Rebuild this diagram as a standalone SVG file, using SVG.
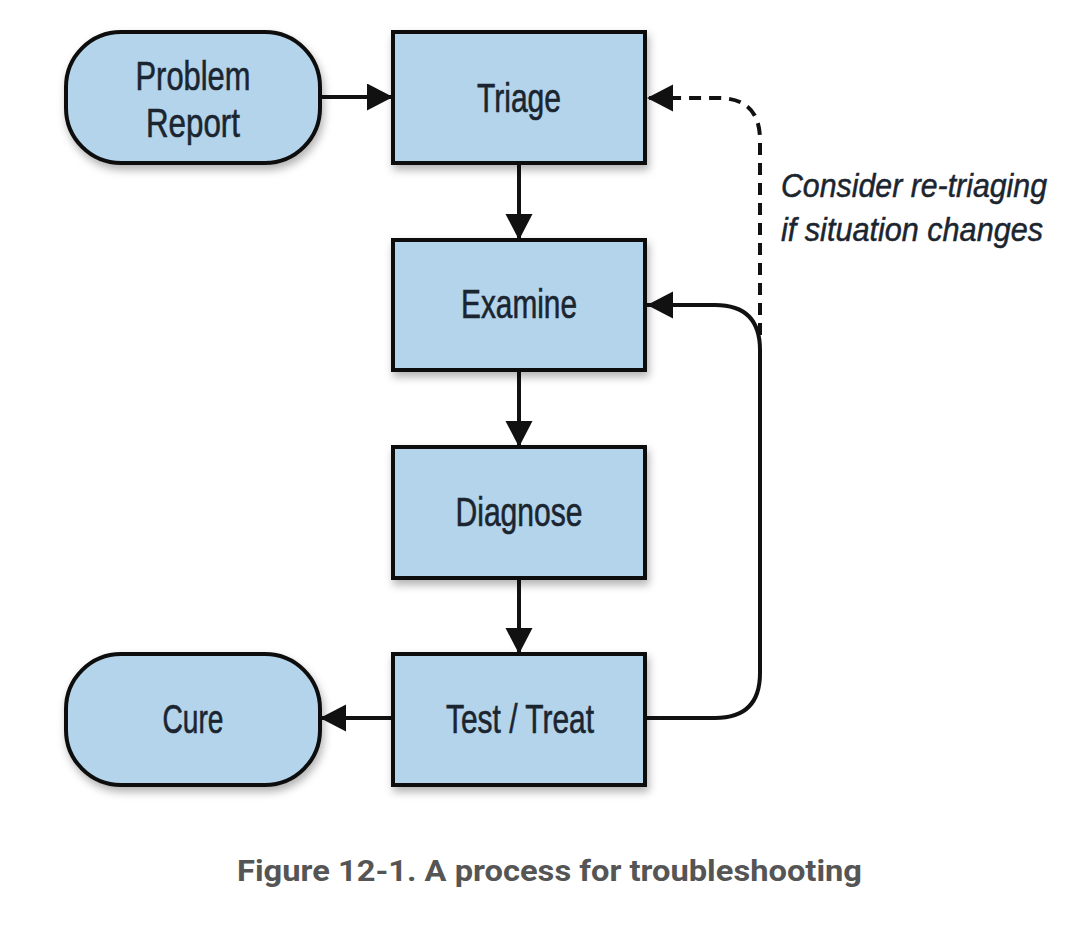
<svg xmlns="http://www.w3.org/2000/svg" width="1086" height="934" viewBox="0 0 1086 934">
<style>
.node{fill:#b3d4ea;stroke:#111;stroke-width:4;filter:url(#sh)}
.lbl{font-family:"Liberation Sans Narrow","Liberation Sans",Arial,sans-serif;font-size:41px;fill:#1b2530;stroke:#1b2530;stroke-width:0.6;text-anchor:middle}
.note{font-family:"Liberation Sans Narrow","Liberation Sans",Arial,sans-serif;font-size:34px;font-style:italic;fill:#1b2530;stroke:#1b2530;stroke-width:0.5}
.cap{font-family:Roboto,"Liberation Sans",Arial,sans-serif;font-size:29px;font-weight:bold;fill:#555}
.con{fill:none;stroke:#111;stroke-width:4}
.dash{stroke-dasharray:12 8}
</style>
<defs>
<filter id="sh" x="-20%" y="-20%" width="140%" height="150%">
<feDropShadow dx="2" dy="5" stdDeviation="4" flood-color="#000" flood-opacity="0.3"/>
</filter>
<marker id="ah" markerUnits="userSpaceOnUse" markerWidth="28" markerHeight="28" refX="26" refY="13.5" orient="auto">
<path d="M0,0 L26,13.5 L0,27 z" fill="#111"/>
</marker>
</defs>
<rect width="1086" height="934" fill="#fff"/>
<g id="connectors">
<path class="con" d="M320,97 H393" marker-end="url(#ah)"/>
<path class="con" d="M519,163 V240" marker-end="url(#ah)"/>
<path class="con" d="M519,370 V447" marker-end="url(#ah)"/>
<path class="con" d="M519,578 V654" marker-end="url(#ah)"/>
<path class="con" d="M393,718 H320" marker-end="url(#ah)"/>
<path class="con" d="M645,718 H715 Q760,718 760,673 V350 Q760,305 715,305 H647" marker-end="url(#ah)"/>
<path class="con dash" d="M760,335 V140 Q760,98 718,98 H647" marker-end="url(#ah)"/>
</g>
<g id="problem-report">
<rect class="node" x="66" y="32" width="254" height="131" rx="55" ry="55"/>
<text class="lbl" x="193" y="90" textLength="115" lengthAdjust="spacingAndGlyphs">Problem</text>
<text class="lbl" x="193" y="137" textLength="94" lengthAdjust="spacingAndGlyphs">Report</text>
</g>
<g id="triage">
<rect class="node" x="393" y="32" width="252" height="131"/>
<text class="lbl" x="519" y="112" textLength="84" lengthAdjust="spacingAndGlyphs">Triage</text>
</g>
<g id="examine">
<rect class="node" x="393" y="240" width="252" height="130"/>
<text class="lbl" x="519" y="318" textLength="116" lengthAdjust="spacingAndGlyphs">Examine</text>
</g>
<g id="diagnose">
<rect class="node" x="393" y="447" width="252" height="131"/>
<text class="lbl" x="519" y="526" textLength="127" lengthAdjust="spacingAndGlyphs">Diagnose</text>
</g>
<g id="test-treat">
<rect class="node" x="393" y="654" width="252" height="131"/>
<text class="lbl" x="520" y="733" textLength="148" lengthAdjust="spacingAndGlyphs">Test / Treat</text>
</g>
<g id="cure">
<rect class="node" x="66" y="654" width="254" height="131" rx="55" ry="55"/>
<text class="lbl" x="193" y="733" textLength="61" lengthAdjust="spacingAndGlyphs">Cure</text>
</g>
<g id="note">
<text class="note" x="781" y="197" textLength="266" lengthAdjust="spacingAndGlyphs">Consider re-triaging</text>
<text class="note" x="781" y="241" textLength="262" lengthAdjust="spacingAndGlyphs">if situation changes</text>
</g>
<text class="cap" x="237" y="881" textLength="625" lengthAdjust="spacingAndGlyphs">Figure 12-1. A process for troubleshooting</text>
</svg>
